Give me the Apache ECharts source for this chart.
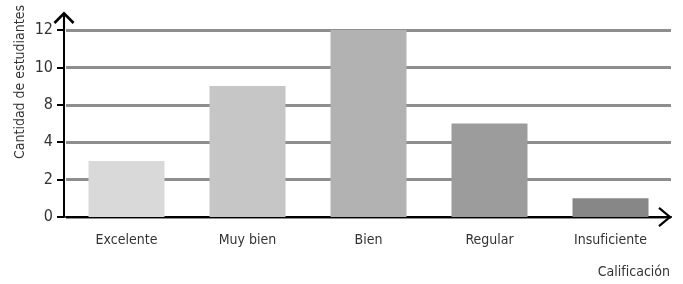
<!DOCTYPE html>
<html lang="es">

<head>
    <meta charset="UTF-8">
    <title>Calificación</title>
    <script src="https://cdn.jsdelivr.net/npm/echarts@6.0.0/dist/echarts.min.js"></script>
    <style>
        body {
            margin: 0;
            padding: 0;
            background: #fff;
        }

        #main {
            width: 683px;
            height: 284px;
        }
    </style>
</head>

<body>
    <div id="main"></div>

    <script>
        // datos
        var categorias = ['Excelente', 'Muy bien', 'Bien', 'Regular', 'Insuficiente'];
        // etiquetas del eje tal como aparecen en la figura (salta del 4 al 8)
        var etiquetasY = ['0', '2', '4', '8', '10', '12'];
        // altura de cada barra medida en divisiones del eje dibujado
        var alturas = [1.5, 3.5, 5, 2.5, 0.5];
        var colores = ['#d9d9d9', '#c6c6c6', '#b2b2b2', '#9c9c9c', '#878787'];

        var fuente = '"DejaVu Sans Condensed", "Liberation Sans Narrow", sans-serif';

        // flechas abiertas (apuntan hacia arriba; echarts las gira)
        var flechaY = 'path://M10,0 L20,10 L18.2,11.8 L10,3.6 L1.8,11.8 L0,10 Z M9,1 L11,1 L11,20 L9,20 Z';
        var flechaX = 'path://M10,0 L20,12 L18.3,13.4 L10,3.4 L1.7,13.4 L0,12 Z';

        var myChart = echarts.init(document.getElementById('main'));

        var option = {
            animation: false,
            grid: {
                left: 66,
                right: 12,
                top: 30,
                bottom: 67
            },
            xAxis: {
                type: 'category',
                data: categorias,
                axisLine: {
                    lineStyle: { color: '#000', width: 2 },
                    symbol: ['none', flechaX],
                    symbolSize: [20, 14],
                    symbolOffset: [0, -6]
                },
                axisTick: { show: false },
                axisLabel: {
                    margin: 16,
                    color: '#333',
                    fontFamily: fuente,
                    fontSize: 14
                }
            },
            yAxis: {
                type: 'value',
                min: 0,
                max: 5,
                interval: 1,
                offset: 2,
                axisLine: {
                    show: true,
                    lineStyle: { color: '#000', width: 2 },
                    symbol: ['none', flechaY],
                    symbolSize: [21, 21],
                    symbolOffset: [0, 8]
                },
                axisTick: {
                    show: true,
                    length: 7,
                    lineStyle: { color: '#000', width: 2 }
                },
                axisLabel: {
                    margin: 11,
                    color: '#333',
                    fontFamily: fuente,
                    fontSize: 16,
                    formatter: function (v) {
                        return etiquetasY[Math.round(v)];
                    }
                },
                splitLine: {
                    lineStyle: { color: '#8e8e8e', width: 3 }
                }
            },
            graphic: [
                {
                    type: 'text',
                    x: 20,
                    y: 82,
                    rotation: Math.PI / 2,
                    style: {
                        text: 'Cantidad de estudiantes',
                        fill: '#333',
                        font: '14px ' + fuente,
                        align: 'center',
                        verticalAlign: 'middle'
                    }
                },
                {
                    type: 'text',
                    x: 670,
                    y: 272,
                    style: {
                        text: 'Calificación',
                        fill: '#333',
                        font: '14px ' + fuente,
                        align: 'right',
                        verticalAlign: 'middle'
                    }
                }
            ],
            series: [
                {
                    type: 'bar',
                    barWidth: 76,
                    z: 3,
                    data: alturas.map(function (v, i) {
                        return { value: v, itemStyle: { color: colores[i] } };
                    })
                }
            ]
        };

        option && myChart.setOption(option);
    </script>
</body>

</html>
